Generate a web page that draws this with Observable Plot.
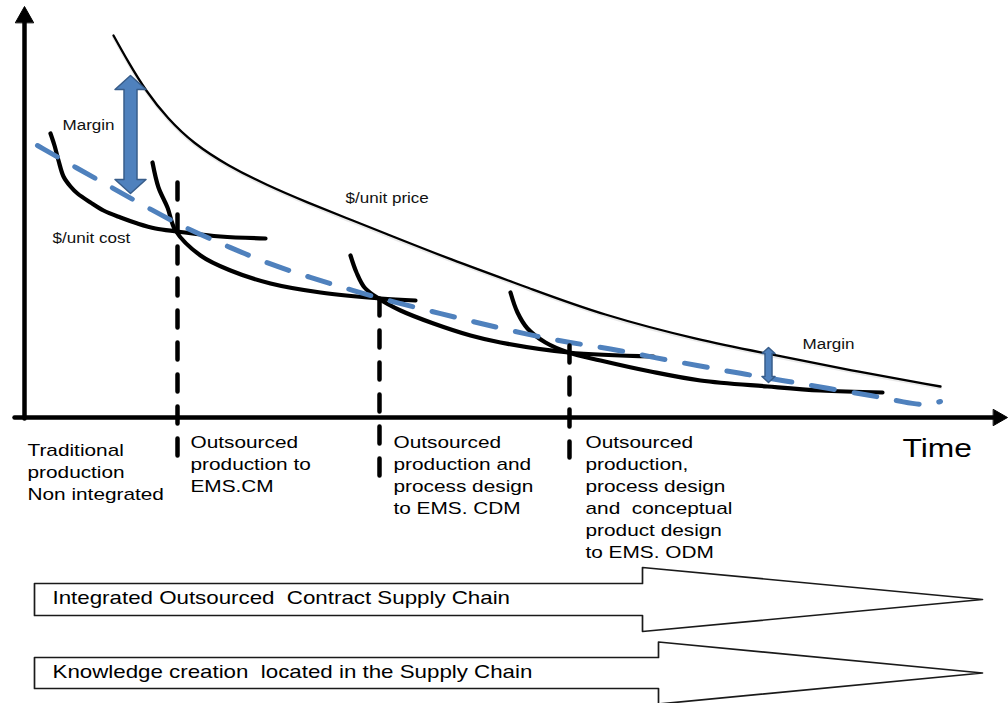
<!DOCTYPE html>
<html><head><meta charset="utf-8">
<script src="https://cdn.jsdelivr.net/npm/d3@7"></script>
<script src="https://cdn.jsdelivr.net/npm/@observablehq/plot@0.6"></script>
<style>
html,body{margin:0;padding:0;background:#fff;}
#chart svg{display:block;}
#chart svg text{white-space:pre;}
</style>
</head><body><div id="chart"></div>
<script>
// Units: t = time from origin, v = level above the time axis
const priceT = [89,104,121,143,169,203,243,283,323,356,426,506,576,676,743,826,916];
const priceV = [382,355,327,299,274,252,232,215,199,186,158,129,103,77,64,47,31];

const cost1T = [26,30,34,39,46,53,66,79,96,113,131,153,196,241];
const cost1V = [284,272,257,241,231,224,215,207,200,194,189,186,181,179];
const cost2T = [128,134,143,151,176,206,246,296,356,391];
const cost2V = [255,230,210,187,162,147,134,125,119,117];
const cost3T = [326,332,340,354,376,409,446,476,544,629];
const cost3V = [162,145,130,119,107,94,82,75,65,61];
const cost4T = [486,493,503,521,544,576,626,676,743,796,858];
const cost4V = [125,105,89,75,65,57,46,37,31,27,25];

const trendT = [13,53,89,128,166,206,243,286,328,371,416,456,499,543,586,629,673,716,759,803,848,881,901,916];
const trendV = [272,249,229,207,187,170,154,140,127,115,104,94,84,75,69,60,52,44,37,29,22,15,12,16];

const dividerT = [153,355,545];
const dividerTopV = [235,119,72];
const dividerBottomV = [-43,-62,-40];

const marginT = [106,744];
const marginTopV = [342,70];
const marginBottomV = [224,35];

const timeAxisT = [-10,983];
const levelAxisV = [-1,411];

const stageT = [3,166,369,561];
const stageBaseV = [-38,-30,-30,-30];
const stageLines = [
  ["Traditional","production","Non integrated"],
  ["Outsourced","production to","EMS.CM"],
  ["Outsourced","production and","process design","to EMS. CDM"],
  ["Outsourced","production,","process design","and  conceptual","product design","to EMS. ODM"]
];

const flowLabels = ["Integrated Outsourced  Contract Supply Chain","Knowledge creation  located in the Supply Chain"];
const flowMidV = [-182,-255.5];
const flowStartT = [10,10];
const flowHeadT = [618,634];
const flowTipT = [958,958];

const labelNames = ["Margin","$/unit cost","$/unit price","Margin"];
const labelT = [38,28,321,778];
const labelV = [288,175,215,69];

// ---------- build drawing tables ----------
const pts = (ts, vs, id) => ts.map((t,i)=>({t, v: vs[i], id}));
const costs = [
  ...pts(cost1T,cost1V,"c1"), ...pts(cost2T,cost2V,"c2"),
  ...pts(cost3T,cost3V,"c3"), ...pts(cost4T,cost4V,"c4")
];
const price = pts(priceT,priceV,"p");
const trend = pts(trendT,trendV,"trend");
const dividers = dividerT.flatMap((t,i)=>[{t, v: dividerTopV[i], id:i},{t, v: dividerBottomV[i], id:i}]);

const msize = [{hw:15.5,sw:6.5,hl:14},{hw:6.5,sw:3.5,hl:6}];
const marginPolys = marginT.flatMap((t,i)=>{
  const top = marginTopV[i], bot = marginBottomV[i], {hw,sw,hl} = msize[i];
  return [[t,top],[t+hw,top-hl],[t+sw,top-hl],[t+sw,bot+hl],[t+hw,bot+hl],[t,bot],
          [t-hw,bot+hl],[t-sw,bot+hl],[t-sw,top-hl],[t-hw,top-hl]].map(([a,b])=>({t:a,v:b,id:i}));
});

const flowSize = [{bh:16,hh:32},{bh:15.5,hh:31}];
const flowPolys = flowLabels.flatMap((_,i)=>{
  const m = flowMidV[i], {bh,hh} = flowSize[i], t0 = flowStartT[i], th = flowHeadT[i], tt = flowTipT[i];
  return [[t0,m+bh],[th,m+bh],[th,m+hh],[tt,m],[th,m-hh],[th,m-bh],[t0,m-bh]].map(([a,b])=>({t:a,v:b,id:i}));
});

const axes = [
  {t: timeAxisT[0], v:0, id:"x"}, {t: timeAxisT[1]-14, v:0, id:"x"},
  {t:0, v: levelAxisV[0], id:"y"}, {t:0, v: levelAxisV[1]-16, id:"y"}
];
const heads = [
  {t: timeAxisT[1]-14, v: 8, id:"x"}, {t: timeAxisT[1], v:0, id:"x"}, {t: timeAxisT[1]-14, v:-8, id:"x"},
  {t:-9, v: levelAxisV[1]-16, id:"y"}, {t:0, v: levelAxisV[1], id:"y"}, {t:9, v: levelAxisV[1]-16, id:"y"}
];

const stageRows = stageLines.flatMap((lines,i)=>lines.map((text,j)=>({t: stageT[i], v: stageBaseV[i] - 22*j, text})));
const flowRows = flowLabels.map((text,i)=>({t: 28, v: flowMidV[i] - 4.5, text}));
const labelRows = labelNames.map((text,i)=>({t: labelT[i], v: labelV[i], text}));
const timeRows = [{t: 878, v: -39, text: "Time"}];

const font = "Liberation Sans, Arial, sans-serif";

const chart = Plot.plot({
  width: 1008, height: 703,
  margin: 0,
  style: {background: "#fff", fontFamily: font},
  x: {type: "linear", domain: [-24, 984], range: [0, 1008], axis: null},
  y: {type: "linear", domain: [-286, 417], range: [703, 0], axis: null},
  marks: [
    Plot.line(flowPolys, {x:"t", y:"v", z:"id", curve:"linear-closed", fill:"#fff", stroke:"#1a1a1a", strokeWidth:1.7}),
    Plot.line(price, {x:"t", y:"v", z:"id", curve:"basis", stroke:"#888", strokeOpacity:0.18, strokeWidth:3, dy:1.5}),
    Plot.line(price, {x:"t", y:"v", z:"id", curve:"basis", stroke:"#000", strokeWidth:2.3}),
    Plot.line(costs, {x:"t", y:"v", z:"id", curve:"catmull-rom", stroke:"#000", strokeWidth:4.2}),
    Plot.line(trend, {x:"t", y:"v", z:"id", curve:"basis", stroke:"#4F81BD", strokeWidth:5, strokeDasharray:"23,20"}),
    Plot.line(dividers, {x:"t", y:"v", z:"id", stroke:"#000", strokeWidth:4.5, strokeDasharray:"17,15"}),
    Plot.line(axes, {x:"t", y:"v", z:"id", stroke:"#000", strokeWidth:4.5}),
    Plot.line(heads, {x:"t", y:"v", z:"id", curve:"linear-closed", fill:"#000", stroke:"#000", strokeWidth:1}),
    Plot.line(marginPolys, {x:"t", y:"v", z:"id", curve:"linear-closed", fill:"#4F81BD", stroke:"#385D8A", strokeWidth:1.5}),
    Plot.text(labelRows, {x:"t", y:"v", text:"text", textAnchor:"start", lineAnchor:"bottom", fontSize:15.5, fill:"#111"}),
    Plot.text(stageRows, {x:"t", y:"v", text:"text", textAnchor:"start", lineAnchor:"bottom", fontSize:17.2, fill:"#000"}),
    Plot.text(flowRows, {x:"t", y:"v", text:"text", textAnchor:"start", lineAnchor:"bottom", fontSize:18.6, fill:"#000"}),
    Plot.text(timeRows, {x:"t", y:"v", text:"text", textAnchor:"start", lineAnchor:"bottom", fontSize:26.5, fill:"#000"})
  ]
});

// horizontal stretch of the lettering, as in the reference slide
const stretchBySize = {"15.5":1.1, "17.2":1.21, "18.6":1.2, "26.5":1.2};
chart.querySelectorAll("text").forEach(el => {
  let g = el.parentNode, fs = null;
  while (g && g !== chart && fs == null) { fs = g.getAttribute && g.getAttribute("font-size"); g = g.parentNode; }
  const s = stretchBySize[String(parseFloat(fs))];
  if (!s) return;
  const tr = el.getAttribute("transform");
  if (tr) el.setAttribute("transform", tr + ` scale(${s},1)`);
  else {
    const x = +el.getAttribute("x") || 0, y = +el.getAttribute("y") || 0;
    el.setAttribute("transform", `translate(${x},${y}) scale(${s},1) translate(${-x},${-y})`);
  }
});
document.getElementById("chart").appendChild(chart);
</script>
</body></html>
